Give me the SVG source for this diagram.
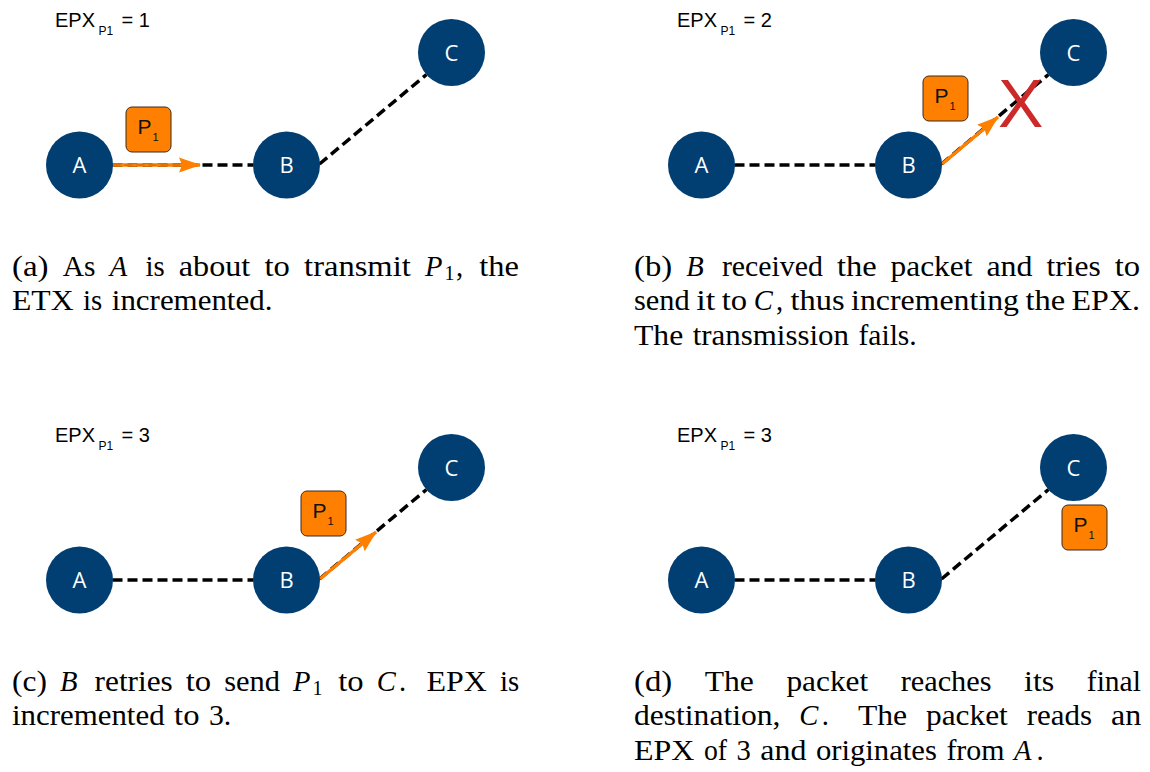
<svg xmlns="http://www.w3.org/2000/svg" width="1150" height="772" viewBox="0 0 1150 772">
<style>
.node circle{fill:#013e72;}
.node text{font-family:"Open Sans","Liberation Sans",Arial,sans-serif;font-size:22px;fill:#ffffff;text-anchor:middle;}
.pkt rect{fill:#ff8000;stroke:#3a2a1a;stroke-width:1;}
.pkt text{font-family:"Liberation Sans",Arial,sans-serif;fill:#111;}
.epx{font-family:"Liberation Sans",Arial,sans-serif;font-size:20px;fill:#000;}
.dash{stroke:#000;stroke-width:3.5;stroke-dasharray:10 5;fill:none;}
.send{stroke:#ff8000;stroke-width:3.5;fill:none;}
.cap{font-family:"Liberation Serif","Times New Roman",serif;font-size:28.6px;fill:#000;}
.mi{font-style:italic;}
.sb{font-size:20px;}
.fail{font-family:"Liberation Sans",Arial,sans-serif;font-size:68px;fill:#cc2a2a;}
</style>
<defs>
<marker id="arr" markerUnits="userSpaceOnUse" markerWidth="24" markerHeight="16" refX="21" refY="8" orient="auto">
<path d="M0,0.5 L22,8 L0,15.5 L3,8 z" fill="#ff8000"/>
</marker>
</defs>

<!-- Panel (a) -->
<g id="panel-a">
<text class="epx" x="55" y="27">EPX<tspan x="98.5" dy="7.5" font-size="12">P1</tspan><tspan x="121.5" dy="-7.5">= 1</tspan></text>
<g id="a-connectors">
<line class="dash" x1="112.5" y1="165" x2="253.5" y2="165"/>
<line class="dash" x1="319.5" y1="164" x2="426.5" y2="74.5"/>
<line class="send" x1="112.5" y1="165" x2="200" y2="165" stroke-width="4.5" marker-end="url(#arr)"/>
<line x1="112.5" y1="165" x2="180" y2="165" stroke="#c86400" stroke-width="1.2" stroke-dasharray="8 4"/>
</g>
<g id="a-node-A" class="node"><circle cx="79.5" cy="165" r="33.5"/><text x="79.5" y="173">A</text></g>
<g id="a-node-B" class="node"><circle cx="286.5" cy="165" r="33.5"/><text x="286.5" y="173">B</text></g>
<g id="a-node-C" class="node"><circle cx="451.5" cy="52.5" r="33.5"/><text x="451.5" y="60.5">C</text></g>
<g id="a-packet" class="pkt"><rect x="126" y="107" width="45" height="45" rx="6"/><text x="137.5" y="134" font-size="21">P</text><text x="152.5" y="140.5" font-size="11">1</text></g>
</g>

<!-- Panel (b) -->
<g id="panel-b" transform="translate(622,0)">
<text class="epx" x="55" y="27">EPX<tspan x="98.5" dy="7.5" font-size="12">P1</tspan><tspan x="121.5" dy="-7.5">= 2</tspan></text>
<g id="b-connectors">
<line class="dash" x1="112.5" y1="165" x2="253.5" y2="165"/>
<line class="dash" x1="319.5" y1="164" x2="426.5" y2="74.5"/>
<line class="send" x1="320" y1="164" x2="376" y2="117" marker-end="url(#arr)"/>
</g>
<g id="b-node-A" class="node"><circle cx="79.5" cy="165" r="33.5"/><text x="79.5" y="173">A</text></g>
<g id="b-node-B" class="node"><circle cx="286.5" cy="165" r="33.5"/><text x="286.5" y="173">B</text></g>
<g id="b-node-C" class="node"><circle cx="451.5" cy="52.5" r="33.5"/><text x="451.5" y="60.5">C</text></g>
<g id="b-packet" class="pkt"><rect x="301" y="76" width="45" height="45" rx="6"/><text x="312.5" y="103" font-size="21">P</text><text x="327.5" y="109.5" font-size="11">1</text></g>
<g id="b-fail"><text class="fail" x="376" y="126.5">X</text></g>
</g>

<!-- Panel (c) -->
<g id="panel-c" transform="translate(0,415)">
<text class="epx" x="55" y="27">EPX<tspan x="98.5" dy="7.5" font-size="12">P1</tspan><tspan x="121.5" dy="-7.5">= 3</tspan></text>
<g id="c-connectors">
<line class="dash" x1="112.5" y1="165" x2="253.5" y2="165"/>
<line class="dash" x1="319.5" y1="164" x2="426.5" y2="74.5"/>
<line class="send" x1="320" y1="164" x2="376" y2="117" marker-end="url(#arr)"/>
</g>
<g id="c-node-A" class="node"><circle cx="79.5" cy="165" r="33.5"/><text x="79.5" y="173">A</text></g>
<g id="c-node-B" class="node"><circle cx="286.5" cy="165" r="33.5"/><text x="286.5" y="173">B</text></g>
<g id="c-node-C" class="node"><circle cx="451.5" cy="52.5" r="33.5"/><text x="451.5" y="60.5">C</text></g>
<g id="c-packet" class="pkt"><rect x="301" y="76" width="45" height="45" rx="6"/><text x="312.5" y="103" font-size="21">P</text><text x="327.5" y="109.5" font-size="11">1</text></g>
</g>

<!-- Panel (d) -->
<g id="panel-d" transform="translate(622,415)">
<text class="epx" x="55" y="27">EPX<tspan x="98.5" dy="7.5" font-size="12">P1</tspan><tspan x="121.5" dy="-7.5">= 3</tspan></text>
<g id="d-connectors">
<line class="dash" x1="112.5" y1="165" x2="253.5" y2="165"/>
<line class="dash" x1="319.5" y1="164" x2="426.5" y2="74.5"/>
</g>
<g id="d-node-A" class="node"><circle cx="79.5" cy="165" r="33.5"/><text x="79.5" y="173">A</text></g>
<g id="d-node-B" class="node"><circle cx="286.5" cy="165" r="33.5"/><text x="286.5" y="173">B</text></g>
<g id="d-node-C" class="node"><circle cx="451.5" cy="52.5" r="33.5"/><text x="451.5" y="60.5">C</text></g>
<g id="d-packet" class="pkt"><rect x="440" y="90" width="45" height="45" rx="6"/><text x="451.5" y="117" font-size="21">P</text><text x="466.5" y="123.5" font-size="11">1</text></g>
</g>

<!-- Captions -->
<g id="captions">
<text class="cap" y="276"><tspan x="12" textLength="36.6" lengthAdjust="spacingAndGlyphs">(a)</tspan> <tspan x="62.8" textLength="32.7" lengthAdjust="spacingAndGlyphs">As</tspan> <tspan x="109.7" class="mi">A</tspan> <tspan x="145.4" textLength="19.2" lengthAdjust="spacingAndGlyphs">is</tspan> <tspan x="178.8" textLength="71.5" lengthAdjust="spacingAndGlyphs">about</tspan> <tspan x="264.5" textLength="25.4" lengthAdjust="spacingAndGlyphs">to</tspan> <tspan x="304.1" textLength="106.7" lengthAdjust="spacingAndGlyphs">transmit</tspan> <tspan x="425" class="mi">P</tspan><tspan x="444.5" dy="4.3" class="sb">1</tspan><tspan x="456" dy="-4.3">,</tspan> <tspan x="479.2" textLength="39.7" lengthAdjust="spacingAndGlyphs">the</tspan></text>
<text class="cap" y="310.3"><tspan x="12" textLength="61.6" lengthAdjust="spacingAndGlyphs">ETX</tspan> <tspan x="83.1" textLength="19.2" lengthAdjust="spacingAndGlyphs">is</tspan> <tspan x="111.8" textLength="160.6" lengthAdjust="spacingAndGlyphs">incremented.</tspan></text>

<text class="cap" y="276"><tspan x="634" textLength="38.2" lengthAdjust="spacingAndGlyphs">(b)</tspan> <tspan x="686.2" class="mi">B</tspan> <tspan x="721.9" textLength="101" lengthAdjust="spacingAndGlyphs">received</tspan> <tspan x="836.9" textLength="39.7" lengthAdjust="spacingAndGlyphs">the</tspan> <tspan x="890.6" textLength="81.8" lengthAdjust="spacingAndGlyphs">packet</tspan> <tspan x="986.4" textLength="46.1" lengthAdjust="spacingAndGlyphs">and</tspan> <tspan x="1046.5" textLength="54.3" lengthAdjust="spacingAndGlyphs">tries</tspan> <tspan x="1114.8" textLength="25.4" lengthAdjust="spacingAndGlyphs">to</tspan></text>
<text class="cap" y="310.3"><tspan x="634" textLength="55.8" lengthAdjust="spacingAndGlyphs">send</tspan> <tspan x="696.3" textLength="19.1" lengthAdjust="spacingAndGlyphs">it</tspan> <tspan x="721.8" textLength="25.4" lengthAdjust="spacingAndGlyphs">to</tspan> <tspan x="753.7" class="mi">C</tspan><tspan x="776.1">,</tspan> <tspan x="790.4" textLength="54.2" lengthAdjust="spacingAndGlyphs">thus</tspan> <tspan x="851.1" textLength="167.9" lengthAdjust="spacingAndGlyphs">incrementing</tspan> <tspan x="1025.4" textLength="39.7" lengthAdjust="spacingAndGlyphs">the</tspan> <tspan x="1071.6" textLength="68.4" lengthAdjust="spacingAndGlyphs">EPX.</tspan></text>
<text class="cap" y="344.6"><tspan x="634" textLength="49.2" lengthAdjust="spacingAndGlyphs">The</tspan> <tspan x="692.7" textLength="156.3" lengthAdjust="spacingAndGlyphs">transmission</tspan> <tspan x="858.5" textLength="58.2" lengthAdjust="spacingAndGlyphs">fails.</tspan></text>

<text class="cap" y="691"><tspan x="12" textLength="34.9" lengthAdjust="spacingAndGlyphs">(c)</tspan> <tspan x="59.9" class="mi">B</tspan> <tspan x="94.6" textLength="78.2" lengthAdjust="spacingAndGlyphs">retries</tspan> <tspan x="185.8" textLength="25.4" lengthAdjust="spacingAndGlyphs">to</tspan> <tspan x="224.2" textLength="55.8" lengthAdjust="spacingAndGlyphs">send</tspan> <tspan x="293" class="mi">P</tspan><tspan x="312.5" dy="4.3" class="sb">1</tspan> <tspan x="338.3" dy="-4.3" textLength="25.4" lengthAdjust="spacingAndGlyphs">to</tspan> <tspan x="376.7" class="mi">C</tspan><tspan x="399.1">.</tspan> <tspan x="426.5" textLength="60.4" lengthAdjust="spacingAndGlyphs">EPX</tspan> <tspan x="499.9" textLength="19.2" lengthAdjust="spacingAndGlyphs">is</tspan></text>
<text class="cap" y="725.3"><tspan x="12" textLength="152.6" lengthAdjust="spacingAndGlyphs">incremented</tspan> <tspan x="174.1" textLength="25.4" lengthAdjust="spacingAndGlyphs">to</tspan> <tspan x="209" textLength="22.3" lengthAdjust="spacingAndGlyphs">3.</tspan></text>

<text class="cap" y="691"><tspan x="634" textLength="38.2" lengthAdjust="spacingAndGlyphs">(d)</tspan> <tspan x="704.7" textLength="49.2" lengthAdjust="spacingAndGlyphs">The</tspan> <tspan x="786.4" textLength="81.8" lengthAdjust="spacingAndGlyphs">packet</tspan> <tspan x="900.7" textLength="90.8" lengthAdjust="spacingAndGlyphs">reaches</tspan> <tspan x="1024" textLength="30.3" lengthAdjust="spacingAndGlyphs">its</tspan> <tspan x="1086.8" textLength="54.1" lengthAdjust="spacingAndGlyphs">final</tspan></text>
<text class="cap" y="725.3"><tspan x="634" textLength="146.4" lengthAdjust="spacingAndGlyphs">destination,</tspan> <tspan x="799.3" class="mi">C</tspan><tspan x="821.7">.</tspan> <tspan x="857.9" textLength="49.2" lengthAdjust="spacingAndGlyphs">The</tspan> <tspan x="926" textLength="81.8" lengthAdjust="spacingAndGlyphs">packet</tspan> <tspan x="1026.7" textLength="65.4" lengthAdjust="spacingAndGlyphs">reads</tspan> <tspan x="1111" textLength="30.2" lengthAdjust="spacingAndGlyphs">an</tspan></text>
<text class="cap" y="759.6"><tspan x="634" textLength="60.4" lengthAdjust="spacingAndGlyphs">EPX</tspan> <tspan x="703.9" textLength="23.1" lengthAdjust="spacingAndGlyphs">of</tspan> <tspan x="736.5" textLength="14.3" lengthAdjust="spacingAndGlyphs">3</tspan> <tspan x="760.3" textLength="46.1" lengthAdjust="spacingAndGlyphs">and</tspan> <tspan x="815.9" textLength="121" lengthAdjust="spacingAndGlyphs">originates</tspan> <tspan x="946.4" textLength="58.1" lengthAdjust="spacingAndGlyphs">from</tspan> <tspan x="1014" class="mi">A</tspan><tspan x="1036.5">.</tspan></text>
</g>
</svg>
